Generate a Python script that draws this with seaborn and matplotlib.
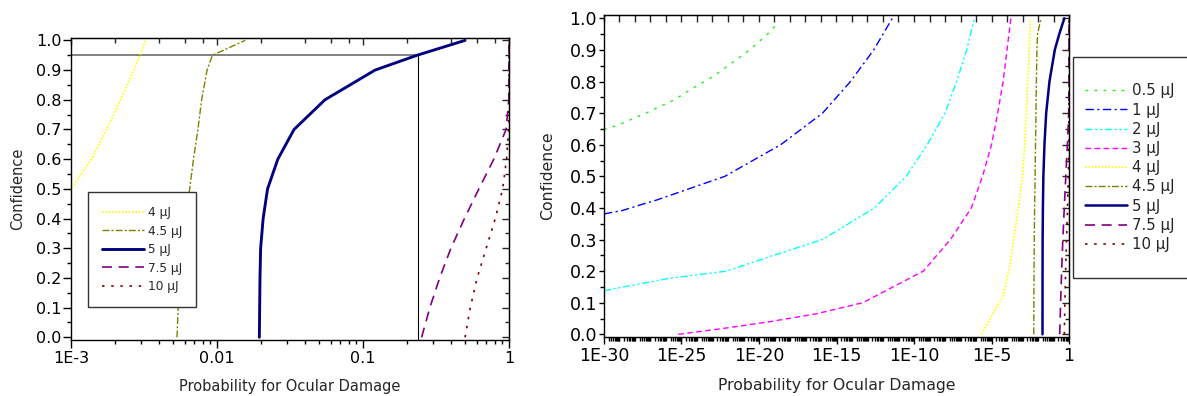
import numpy as np
import matplotlib
matplotlib.use("Agg")
import matplotlib.pyplot as plt
import matplotlib.ticker as mticker
from matplotlib.patches import Rectangle
import seaborn as sns

# confidence levels (y) and log10 of the damage probability (x)
conf_05 = [0.648, 0.662, 0.70, 0.741, 0.778, 0.815, 0.857, 0.90, 0.952, 0.979]
logp_05 = [-30, -29.1, -27.3, -25.5, -24.3, -23.0, -21.8, -20.6, -19.4, -18.9]

conf_1 = [0.381, 0.392, 0.409, 0.425, 0.50, 0.60, 0.70, 0.80, 0.90, 1.0]
logp_1 = [-30, -28.8, -27.7, -26.6, -22.2, -18.6, -15.9, -14.1, -12.6, -11.4]

conf_2 = [0.138, 0.157, 0.177, 0.20, 0.246, 0.30, 0.40, 0.50, 0.60, 0.70, 0.80, 0.90, 1.0]
logp_2 = [-30, -28, -25.8, -22.1, -19.3, -15.9, -12.55, -10.5, -9.15, -8.0, -7.25, -6.6, -6.1]

conf_3 = [0.0, 0.02, 0.04, 0.065, 0.1, 0.2, 0.3, 0.4, 0.5, 0.6, 0.7, 0.8, 0.9, 1.0]
logp_3 = [-25.2, -22.1, -19.3, -16.3, -13.3, -9.4, -7.65, -6.3, -5.58, -5.0, -4.6, -4.25, -4.0, -3.75]

conf_4 = [0.0, 0.066, 0.12, 0.214, 0.3, 0.4, 0.5, 0.6, 0.7, 0.8, 0.9, 0.95, 1.0]
logp_4 = [-5.65, -4.9, -4.26, -3.83, -3.57, -3.27, -3.0, -2.86, -2.757, -2.66, -2.57, -2.527, -2.49]

conf_45 = [0.0, 0.1, 0.2, 0.3, 0.4, 0.5, 0.6, 0.7, 0.8, 0.9, 0.95, 1.0]
prob_45 = [5.32e-3, 5.42e-3, 5.55e-3, 5.75e-3, 6.05e-3, 6.5e-3, 6.9e-3, 7.4e-3, 7.85e-3, 8.55e-3, 9.3e-3, 0.0156]

conf_5 = [0.0, 0.1, 0.2, 0.3, 0.4, 0.5, 0.6, 0.7, 0.8, 0.9, 0.95, 1.0]
prob_5 = [0.0195, 0.0196, 0.0197, 0.0199, 0.0207, 0.0222, 0.0261, 0.0337, 0.0549, 0.121, 0.235, 0.5]

conf_75 = [0.0, 0.1, 0.2, 0.3, 0.4, 0.5, 0.6, 0.7, 0.8, 0.9, 1.0]
prob_75 = [0.252, 0.287, 0.335, 0.40, 0.495, 0.622, 0.787, 0.955, 0.997, 0.9999, 1.0]

conf_10 = [0.0, 0.1, 0.2, 0.3, 0.4, 0.5, 0.6, 0.7, 0.8, 0.9, 1.0]
prob_10 = [0.5, 0.543, 0.605, 0.698, 0.805, 0.905, 0.962, 0.992, 0.9985, 0.9998, 1.0]

# 95 % confidence read-off for 5 uJ
conf_mark = 0.95
prob_mark = 0.237

labels = ["0.5 µJ", "1 µJ", "2 µJ", "3 µJ", "4 µJ", "4.5 µJ", "5 µJ", "7.5 µJ", "10 µJ"]
probs = [10 ** np.array(logp_05), 10 ** np.array(logp_1), 10 ** np.array(logp_2),
         10 ** np.array(logp_3), 10 ** np.array(logp_4), prob_45, prob_5, prob_75, prob_10]
confs = [conf_05, conf_1, conf_2, conf_3, conf_4, conf_45, conf_5, conf_75, conf_10]
colors = ["#22ee22", "#0000ff", "#00ffff", "#ff00ff", "#ffff00", "#808000", "#000080", "#800080", "#800000"]
styles = [(0, (2, 4.5)), (0, (6, 2.5, 1.5, 2.5)), (0, (5, 2, 1.5, 2, 1.5, 2)), (0, (4, 2.5)),
          (0, (1, 1)), (0, (5, 1.5, 1.5, 1.5)), "-", (0, (6, 4)), (0, (1.5, 4))]
widths = [1.0, 1.0, 1.0, 1.0, 1.2, 1.0, 1.8, 1.2, 1.2]

sns.set_style("white")
plt.rcParams["font.family"] = ["DejaVu Sans"]

W, H = 1187, 396
fig = plt.figure(figsize=(W / 100, H / 100), dpi=100)
ax1 = fig.add_axes([71 / W, 56 / H, 438 / W, 302 / H])
ax2 = fig.add_axes([604 / W, 59 / H, 465 / W, 322 / H])


def draw_series(ax, idx, lw_scale=1.0):
    sns.lineplot(x=probs[idx], y=confs[idx], ax=ax, color=colors[idx], linestyle=styles[idx],
                 linewidth=widths[idx] * lw_scale, sort=False, estimator=None, label=labels[idx])


def style_axes(ax, tick_size, label_size, xlen, ylen, xlabelpad, ylabelpad, top_subs):
    ax.set_xlabel("Probability for Ocular Damage", fontsize=label_size, labelpad=xlabelpad)
    ax.set_ylabel("Confidence", fontsize=label_size, labelpad=ylabelpad)
    ax.yaxis.set_major_locator(mticker.MultipleLocator(0.1))
    ax.yaxis.set_minor_locator(mticker.MultipleLocator(0.05))
    ax.yaxis.set_major_formatter(mticker.FormatStrFormatter("%.1f"))
    ax.tick_params(which="both", direction="out", width=1, labelsize=tick_size,
                   bottom=True, left=True, top=False, right=False, colors="black")
    ax.tick_params(axis="x", which="major", length=xlen, pad=2.5)
    ax.tick_params(axis="x", which="minor", length=3)
    ax.tick_params(axis="y", which="major", length=ylen, pad=1.5)
    ax.tick_params(axis="y", which="minor", length=3)
    for sp in ax.spines.values():
        sp.set_color("black")
        sp.set_linewidth(1.0)
    top = ax.secondary_xaxis("top")
    top.tick_params(which="both", direction="in", labeltop=False, width=1)
    top.tick_params(which="major", length=5)
    top.tick_params(which="minor", length=3.5)
    top.xaxis.set_major_locator(mticker.LogLocator(base=10, subs=[1.0], numticks=60))
    if top_subs is None:
        top.xaxis.set_minor_locator(mticker.NullLocator())
    else:
        top.xaxis.set_minor_locator(mticker.LogLocator(base=10, subs=top_subs, numticks=60))
    top.xaxis.set_major_formatter(mticker.NullFormatter())
    top.xaxis.set_minor_formatter(mticker.NullFormatter())
    right = ax.secondary_yaxis("right")
    right.yaxis.set_major_locator(mticker.MultipleLocator(0.1))
    right.yaxis.set_minor_locator(mticker.MultipleLocator(0.05))
    right.tick_params(which="both", direction="in", labelright=False, width=1)
    right.tick_params(which="major", length=5)
    right.tick_params(which="minor", length=3)
    right.yaxis.set_major_formatter(mticker.NullFormatter())


def sci_label(v, pos):
    if np.isclose(v, 1.0):
        return "1"
    return "1E%d" % int(round(np.log10(v)))


# ---- left panel: 4 to 10 uJ, zoomed to 1E-3 ... 1
ax1.set_xscale("log")
for i in range(4, 9):
    draw_series(ax1, i, lw_scale=1.0 if i != 6 else 1.15)
ax1.hlines(conf_mark, 1e-3, prob_mark, color="#777777", linewidth=1.3, zorder=1)
ax1.vlines(prob_mark, -0.01, conf_mark, color="black", linewidth=0.8, zorder=1)
ax1.set_xlim(1e-3, 1)
ax1.set_ylim(-0.009, 1.008)
ax1.xaxis.set_major_locator(mticker.FixedLocator([1e-3, 1e-2, 1e-1, 1]))
ax1.xaxis.set_minor_locator(mticker.LogLocator(base=10, subs=np.arange(2, 10), numticks=10))
ax1.xaxis.set_major_formatter(mticker.FixedFormatter(["1E-3", "0.01", "0.1", "1"]))
ax1.xaxis.set_minor_formatter(mticker.NullFormatter())
style_axes(ax1, 11.5, 10.5, 5.5, 5.5, 9, 7.5, [2, 4, 6, 8])
ax1.legend(loc="upper left", bbox_to_anchor=(87.7 / W, 1 - 191.7 / H), bbox_transform=fig.transFigure,
           borderaxespad=0, fontsize=8.7, handlelength=3.5, handletextpad=0.25, labelspacing=0.45,
           borderpad=1.2, frameon=True, fancybox=False, framealpha=1, edgecolor="#333333")
ax1.get_legend().get_frame().set_linewidth(1.0)

# ---- right panel: all energies, 1E-30 ... 1
ax2.set_xscale("log")
for i in range(9):
    draw_series(ax2, i)
ax2.set_xlim(1e-30, 1)
ax2.set_ylim(-0.0085, 1.0105)
ax2.xaxis.set_major_locator(mticker.FixedLocator(10.0 ** np.arange(-30, 1, 5)))
ax2.xaxis.set_minor_locator(mticker.LogLocator(base=10, subs=np.arange(1, 10), numticks=400))
ax2.xaxis.set_major_formatter(mticker.FuncFormatter(sci_label))
ax2.xaxis.set_minor_formatter(mticker.NullFormatter())
style_axes(ax2, 12.5, 11.3, 5, 3.5, 9, 10, None)
ax2.legend(loc="upper left", bbox_to_anchor=(1085 / W, 1 - 83.5 / H), bbox_transform=fig.transFigure,
           borderaxespad=0, fontsize=10.8, handlelength=2.8, handletextpad=0.3, labelspacing=0.28,
           borderpad=0, frameon=False)
# legend frame of the right panel, running off the figure edge as in the original
fig.patches.append(Rectangle((1072.7 / W, 1 - 278 / H), 130 / W, (278 - 57.3) / H,
                             transform=fig.transFigure, facecolor="none", edgecolor="#333333",
                             linewidth=1.0, zorder=5))

fig.savefig("out.png", dpi=100)
